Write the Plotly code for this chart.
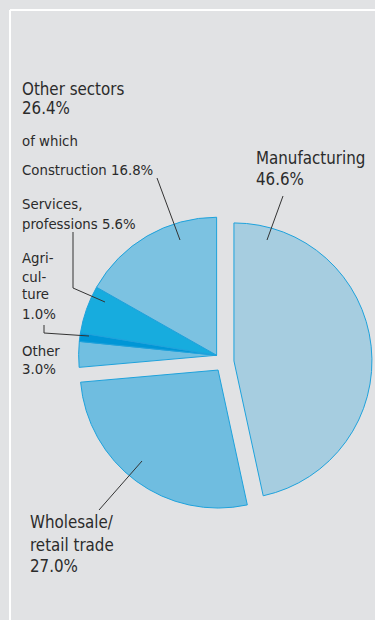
import math
import plotly.graph_objects as go

W, H = 375, 620

# ---- data ----
main_labels = ["Manufacturing", "Wholesale/retail trade", "Other sectors"]
main_values = [46.6, 27.0, 26.4]
sub_labels = ["Other", "Agriculture", "Services, professions", "Construction"]
sub_values = [3.0, 1.0, 5.6, 16.8]

main_colors = ["#a6cde0", "#6fbde0", "rgba(0,0,0,0)"]
sub_colors = ["#71bfe1", "#0096d6", "#17acde", "#7cc2e1"]
edge = "#1ea2dc"
bg = "#e1e2e4"
txt = "#2b2b2b"
FONT = "DejaVu Sans Condensed, Liberation Sans, sans-serif"

# ---- geometry (pixels) ----
cx, cy, R = 224, 362, 138
pull = 0.0725

def px(x):
    return x / W

def py(y):
    return 1 - y / H

# direction of the "Other sectors" slice (clockwise from 12 o'clock)
total = sum(main_values)
start = sum(main_values[:2]) / total * 360
mid = start + main_values[2] / total * 360 / 2
dx = math.sin(math.radians(mid)) * pull * R
dy = -math.cos(math.radians(mid)) * pull * R
ox, oy = cx + dx, cy + dy

half1 = R * (1 + pull)
fig = go.Figure()
fig.add_trace(go.Pie(
    labels=main_labels, values=main_values, sort=False, direction="clockwise",
    rotation=0, pull=[pull, pull, pull], textinfo="none", hoverinfo="skip",
    marker=dict(colors=main_colors,
                line=dict(color=[edge, edge, "rgba(0,0,0,0)"], width=1)),
    domain=dict(x=[px(cx - half1), px(cx + half1)], y=[py(cy + half1), py(cy - half1)]),
    showlegend=False,
))
rest = total - sum(sub_values)
fig.add_trace(go.Pie(
    labels=["rest"] + sub_labels, values=[rest] + sub_values, sort=False,
    direction="clockwise", rotation=0, textinfo="none", hoverinfo="skip",
    marker=dict(colors=["rgba(0,0,0,0)"] + sub_colors,
                line=dict(color=["rgba(0,0,0,0)"] + [edge] * 4, width=1)),
    domain=dict(x=[px(ox - R), px(ox + R)], y=[py(oy + R), py(oy - R)]),
    showlegend=False,
))

# ---- labels ----
big, small = 16.8, 14.8
labels_layout = [
    ("Other sectors", 20, 89, big), ("26.4%", 20, 108, big),
    ("of which", 20, 140, small), ("Construction 16.8%", 20, 169, small),
    ("Services,", 20, 203.5, small), ("professions 5.6%", 20, 223.5, small),
    ("Agri-", 20, 257, small), ("cul-", 20, 276, small), ("ture", 20, 294, small),
    ("1.0%", 20, 313.5, small), ("Other", 20, 350, small), ("3.0%", 20, 368.5, small),
    ("Manufacturing", 254, 158, big), ("46.6%", 254, 179, big),
    ("Wholesale/", 28, 521.5, big), ("retail trade", 28, 544.5, big), ("27.0%", 28, 565.5, big),
]
annotations = [
    dict(text=t, x=px(x), y=py(y), xref="paper", yref="paper", xanchor="left",
         yanchor="middle", showarrow=False, font=dict(family=FONT, size=s, color=txt))
    for t, x, y, s in labels_layout
]

leaders = [
    [(157, 178), (180, 240)],
    [(283, 196), (267, 240)],
    [(73, 232), (73, 288), (105, 302)],
    [(44, 325), (44, 333), (89, 336)],
    [(99, 510), (142, 461)],
]
shapes = []
for pts in leaders:
    path = "M " + " L ".join(f"{px(x)},{py(y)}" for x, y in pts)
    shapes.append(dict(type="path", path=path, xref="paper", yref="paper",
                       line=dict(color="#333333", width=1)))
# white frame
shapes.append(dict(type="line", x0=px(10), x1=1, y0=py(10), y1=py(10), xref="paper", yref="paper",
                   line=dict(color="white", width=2), layer="below"))
shapes.append(dict(type="line", x0=px(10), x1=px(10), y0=py(10), y1=0, xref="paper", yref="paper",
                   line=dict(color="white", width=2), layer="below"))

fig.update_layout(
    width=W, height=H, margin=dict(l=0, r=0, t=0, b=0),
    paper_bgcolor=bg, plot_bgcolor=bg,
    annotations=annotations, shapes=shapes,
)
fig.write_html("out.html")
